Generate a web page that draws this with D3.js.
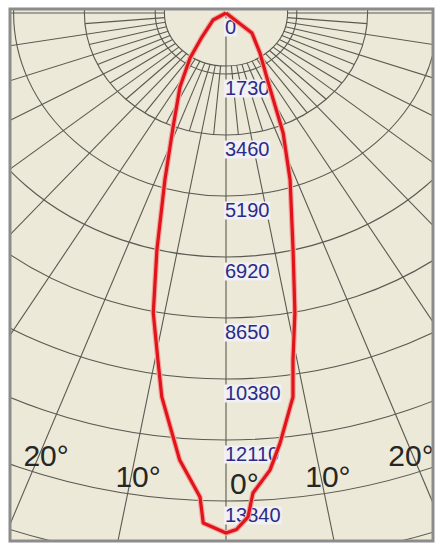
<!DOCTYPE html>
<html>
<head>
<meta charset="utf-8">
<script src="https://cdn.jsdelivr.net/npm/d3@7"></script>
<style>
  body { margin: 0; background: #fff; }
  svg { display: block; }
</style>
</head>
<body>
<div id="chart"></div>
<script>
// ring labels (cd) down the 0 axis
var ringValues = [0, 1730, 3460, 5190, 6920, 8650, 10380, 12110, 13840]
// angle labels at the bottom
var angleLabels = [-20, -10, 0, 10, 20]

// red curve: signed angle (deg) and intensity (cd)
var curveAngles = [-90, -58, -40.8, -34.5, -28.2, -21.8, -17.5, -14.1, -11.8, -9.6, -8.2, -5.1, -2.65, -2.2, 0,
                   1.0, 2.16, 2.77, 4.74, 6.18, 8.55, 9.44, 11.2, 13.7, 18.3, 22.3, 27.5, 36.2, 48.2, 90]
var curveCd = [0, 375, 900, 1550, 2380, 3480, 4965, 6930, 8690, 9980, 11000, 12730, 13740, 14475, 14750,
               14650, 14300, 13630, 13010, 12270, 11010, 9980, 8670, 6920, 4990, 3680, 2250, 1405, 850, 0]

var width = 435
var height = 544
var cx = 226, cy = 13
var frame = {x0: 10, y0: 9, x1: 433, y1: 541}

// the picture is stretched: one ring step is wider than it is tall
var rx = d3.scaleLinear().domain([0, 1730]).range([0, 70.8])
var ry = d3.scaleLinear().domain([0, 1730]).range([0, 61])

function pt(deg, v) {
    var a = deg * Math.PI / 180
    return [cx + rx(v) * Math.sin(a), cy + ry(v) * Math.cos(a)]
}

var svg = d3.select("#chart").append("svg")
        .attr("width", width)
        .attr("height", height)

svg.append("clipPath").attr("id", "clip")
    .append("rect")
    .attr("x", frame.x0).attr("y", frame.y0)
    .attr("width", frame.x1 - frame.x0).attr("height", frame.y1 - frame.y0)

svg.append("rect")
    .attr("x", frame.x0).attr("y", frame.y0)
    .attr("width", frame.x1 - frame.x0).attr("height", frame.y1 - frame.y0)
    .attr("fill", "#ece9d8")

var grid = svg.append("g").attr("clip-path", "url(#clip)")
        .attr("stroke", "#5a5a52").attr("stroke-width", 1.1).attr("fill", "none")

// rings
var inner = 1505
var rings = [inner].concat(ringValues.slice(1), [15570, 17300])
grid.selectAll(".ring")
    .data(rings)
    .enter()
    .append("ellipse")
    .attr("class", "ring")
    .attr("cx", cx).attr("cy", cy)
    .attr("rx", function(d) { return rx(d) })
    .attr("ry", function(d) { return ry(d) })

// spokes: every 5 deg near the centre, every 10 deg further out
var spokes = d3.range(-90, 91, 5).filter(function(a) { return a !== 0 })
grid.selectAll(".spoke")
    .data(spokes)
    .enter()
    .append("line")
    .attr("class", "spoke")
    .attr("x1", function(d) { return pt(d, inner)[0] })
    .attr("y1", function(d) { return pt(d, inner)[1] })
    .attr("x2", function(d) { var v = d % 10 === 0 ? 30000 : 3460; return pt(d, v)[0] })
    .attr("y2", function(d) { var v = d % 10 === 0 ? 30000 : 3460; return pt(d, v)[1] })

// 0 deg axis
grid.append("line")
    .attr("x1", cx).attr("y1", cy)
    .attr("x2", pt(0, 30000)[0]).attr("y2", pt(0, 30000)[1])

// ring labels
var lab = svg.append("g").selectAll(".rlab")
        .data(ringValues)
        .enter()
        .append("g")
        .attr("class", "rlab")

lab.append("text")
    .attr("x", cx - 1)
    .attr("y", function(d) { return pt(0, d)[1] + 20.5 })
    .attr("font-family", "Liberation Sans, Arial, sans-serif")
    .attr("font-size", 20)
    .attr("fill", "#2b2b86")
    .text(function(d) { return d })

lab.insert("rect", "text")
    .each(function() {
        var b = this.parentNode.querySelector("text").getBBox()
        d3.select(this)
            .attr("x", b.x - 1).attr("y", b.y + 3)
            .attr("width", b.width + 2).attr("height", b.height - 4)
    })
    .attr("fill", "#f1f0f4")

// curve
var curvePts = curveAngles.map(function(a, i) { return pt(a, curveCd[i]) })
var line = d3.line()

var cg = svg.append("g").attr("clip-path", "url(#clip)")
cg.append("path")
    .attr("d", line(curvePts))
    .attr("fill", "none")
    .attr("stroke", "#f2a8a0")
    .attr("stroke-width", 5.5)
    .attr("stroke-linejoin", "round")
cg.append("path")
    .attr("d", line(curvePts))
    .attr("fill", "none")
    .attr("stroke", "#e0141a")
    .attr("stroke-width", 3.2)
    .attr("stroke-linejoin", "round")

// angle labels
svg.append("g").selectAll(".alab")
    .data(angleLabels)
    .enter()
    .append("text")
    .attr("class", "alab")
    .attr("x", function(d) {
        if (d === 0) return cx + 4
        return Math.min(pt(d, 13355)[0] + 7, width - 24)
    })
    .attr("y", function(d) { return pt(d, 13355)[1] + 10 })
    .attr("text-anchor", function(d) { return d === 0 ? "start" : "middle" })
    .attr("font-family", "Liberation Sans, Arial, sans-serif")
    .attr("font-size", 30)
    .attr("fill", "#262626")
    .text(function(d) { return Math.abs(d) + "°" })

// frame border
svg.append("rect")
    .attr("x", frame.x0).attr("y", frame.y0)
    .attr("width", frame.x1 - frame.x0).attr("height", frame.y1 - frame.y0)
    .attr("fill", "none")
    .attr("stroke", "#8c8c8c")
    .attr("stroke-width", 3)
</script>
</body>
</html>
